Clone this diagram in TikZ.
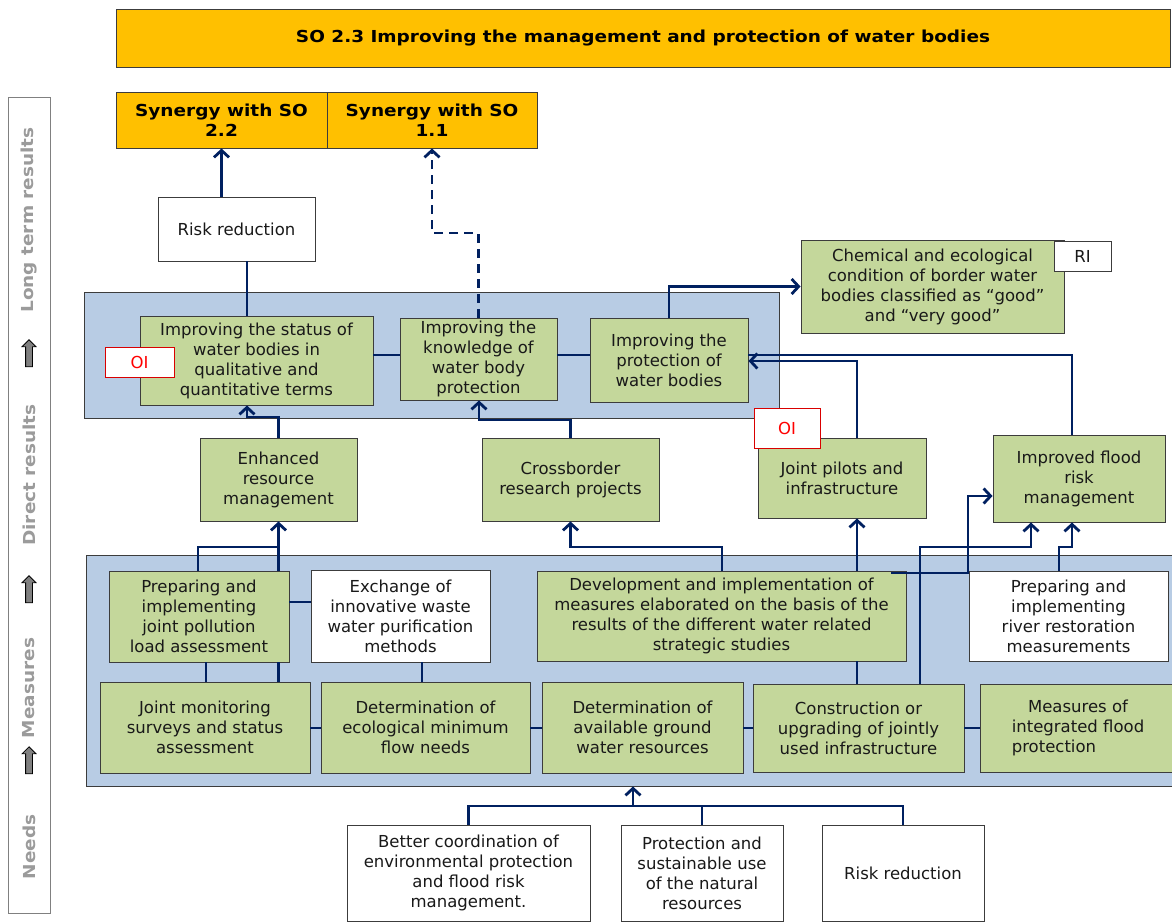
\documentclass[tikz,border=0pt]{standalone}
\usepackage{fontspec}
\setmainfont{DejaVu Sans}
\newfontfamily\bw[FakeStretch=1.12]{DejaVu Sans}
\usetikzlibrary{arrows.meta,shapes.arrows}
\definecolor{grn}{RGB}{196,215,155}
\definecolor{blu}{RGB}{184,204,228}
\definecolor{gld}{RGB}{255,192,0}
\definecolor{nvy}{RGB}{0,32,96}
\definecolor{edg}{RGB}{60,60,60}
\definecolor{sidegray}{RGB}{155,155,155}
\newcommand\nf{\fontsize{16.5}{20}\selectfont}
\newcommand\bx[7]{\node[#6, minimum width={#4-#2}, minimum height={#5-#3}] (#1) at ({(#2+#4)/2},{(#3+#5)/2}) {#7};}
\tikzset{
  base/.style={draw=edg, line width=0.9pt, inner sep=0pt, align=center, text=black!90, font=\nf},
  gbox/.style={base, fill=grn},
  wbox/.style={base, fill=white},
  gold/.style={base, fill=gld, font=\nf\bw\bfseries, text=black},
  bluebox/.style={base, fill=blu},
  oibox/.style={base, draw=red!85!black, fill=white, text=red},
  sidebox/.style={draw=gray, line width=1pt, inner sep=0pt},
  sidetxt/.style={rotate=90, font=\nf\bw\bfseries, text=sidegray},
  uparrow/.style={single arrow, draw=black, fill=gray, rotate=90, minimum height=27pt, inner sep=3pt, single arrow head extend=3.5pt, line width=0.8pt},
  con/.style={draw=nvy, line width=2.8pt},
  arr/.style={con, -{Straight Barb[length=7pt,width=15pt]}},
  dsh/.style={arr, dash pattern=on 9pt off 6pt}
}
\begin{document}
\begin{tikzpicture}[x=1pt,y=-1pt]
\useasboundingbox (0,0) rectangle (1172,922);
\fill[white] (0,0) rectangle (1172,922);

% sidebar
\bx{side}{8}{97}{50}{913}{sidebox}{}
\node[sidetxt] (t1) at (29,220) {Long term results};
\node[sidetxt] (t2) at (29,475) {Direct results};
\node[sidetxt] (t3) at (29,688) {Measures};
\node[sidetxt] (t4) at (29,847) {Needs};
\node[uparrow] (a1) at (29,355) {};
\node[uparrow] (a2) at (29,591) {};
\node[uparrow] (a3) at (29,762) {};

% top
\bx{title}{116}{9}{1170}{67}{gold}{SO 2.3 Improving the management and protection of water bodies}
\bx{synA}{116}{92}{327}{148}{gold}{Synergy with SO\\2.2}
\bx{synB}{327}{92}{537}{148}{gold}{Synergy with SO\\1.1}
\bx{rr}{158}{197}{315}{261}{wbox}{Risk reduction}

% long-term block
\bx{blueA}{84}{292}{779}{418}{bluebox}{}
\bx{status}{140}{316}{373}{405}{gbox}{Improving the status of\\water bodies in\\qualitative and\\quantitative terms}
\bx{know}{400}{318}{557}{400}{gbox}{Improving the\\knowledge of\\water body\\protection}
\bx{prot}{590}{318}{748}{402}{gbox}{Improving the\\protection of\\water bodies}
\bx{oiA}{105}{347}{174}{377}{oibox}{OI}
\bx{chem}{801}{240}{1064}{333}{gbox}{Chemical and ecological\\condition of border water\\bodies classified as “good”\\and “very good”}
\bx{ri}{1054}{241}{1111}{271}{wbox}{RI}

% direct results
\bx{enh}{200}{438}{357}{521}{gbox}{Enhanced\\resource\\management}
\bx{cross}{482}{438}{659}{521}{gbox}{Crossborder\\research projects}
\bx{pilots}{758}{438}{926}{518}{gbox}{Joint pilots and\\infrastructure}
\bx{oiB}{754}{408}{820}{448}{oibox}{OI}
\bx{flood}{993}{435}{1165}{522}{gbox}{Improved flood\\risk\\management}

% measures
\bx{blueB}{86}{555}{1185}{786}{bluebox}{}
\bx{poll}{109}{571}{289}{662}{gbox}{Preparing and\\implementing\\joint pollution\\load assessment}
\bx{exch}{311}{570}{490}{662}{wbox}{Exchange of\\innovative waste\\water purification\\methods}
\bx{dev}{537}{571}{906}{661}{gbox}{Development and implementation of\\measures elaborated on the basis of the\\results of the different water related\\strategic studies}
\bx{river}{969}{571}{1168}{661}{wbox}{Preparing and\\implementing\\river restoration\\measurements}
\bx{mon}{100}{682}{310}{773}{gbox}{Joint monitoring\\surveys and status\\assessment}
\bx{eco}{321}{682}{530}{773}{gbox}{Determination of\\ecological minimum\\flow needs}
\bx{gw}{542}{682}{743}{773}{gbox}{Determination of\\available ground\\water resources}
\bx{cons}{753}{684}{964}{772}{gbox}{Construction or\\upgrading of jointly\\used infrastructure}
\bx{ifp}{980}{684}{1176}{772}{gbox}{Measures of\\integrated flood\\\rlap{protection}\phantom{integrated flood}}

% needs
\bx{better}{347}{825}{590}{921}{wbox}{Better coordination of\\environmental protection\\and flood risk\\management.}
\bx{psu}{621}{825}{783}{921}{wbox}{Protection and\\sustainable use\\of the natural\\resources}
\bx{rrb}{822}{825}{984}{921}{wbox}{Risk reduction}

% connectors: top
\coordinate (k0) at (247,0);
\draw[con] (k0 |- status.north) -- (k0 |- rr.south);
\draw[arr] (rr.north -| synA.south) -- (synA.south);
\coordinate (kd) at (432,233);
\draw[dsh] (know.north) |- (kd) -- (kd |- synB.south);
\draw[arr] (prot.north) |- (chem.west);
\coordinate (k5) at (0,355);
\draw[con] (status.east |- k5) -- (know.west |- k5);
\draw[con] (know.east |- k5) -- (prot.west |- k5);

% direct results to long-term
\coordinate (k1) at (247,417);
\draw[arr] (enh.north) |- (k1) -- (k1 |- status.south);
\coordinate (k2) at (479,420);
\draw[arr] (cross.north) |- (k2) -- (k2 |- know.south);
\coordinate (k4) at (1072,355);
\draw[con] (k4 |- flood.north) -- (k4) -- (k4 -| prot.east);
\coordinate (k3) at (857,361);
\draw[arr] (k3 |- pilots.north) -- (k3) -- (k3 -| prot.east);

% measures internal and to direct results
\coordinate (c206) at (206,0);
\draw[con] (c206 |- poll.south) -- (c206 |- mon.north);
\draw[con] (enh.south |- poll.south) -- (enh.south |- mon.north);
\draw[arr] (enh.south |- poll.north) -- (enh.south);
\coordinate (k6) at (198,547);
\draw[con] (k6 |- poll.north) -- (k6) -- (k6 -| enh.south);
\coordinate (k7) at (0,602);
\draw[con] (poll.east |- k7) -- (exch.west |- k7);
\coordinate (k8) at (422,0);
\draw[con] (k8 |- exch.south) -- (k8 |- eco.north);
\coordinate (k9) at (722,547);
\draw[arr] (k9 |- dev.north) -- (k9) -| (cross.south);
\draw[arr] (k3 |- dev.north) -- (k3 |- pilots.south);
\draw[con] (k3 |- cons.north) -- (k3 |- dev.south);
\coordinate (k10) at (920,547);
\coordinate (k11) at (1031,547);
\draw[arr] (k10 |- cons.north) -- (k10) -- (k11) -- (k11 |- flood.south);
\coordinate (k12) at (891,573);
\coordinate (k13) at (968,496);
\draw[arr] (k12) -| (k13) -- (k13 -| flood.west);
\coordinate (k14) at (1059,547);
\coordinate (k15) at (1072,547);
\draw[arr] (k14 |- river.north) -- (k14) -- (k15) -- (k15 |- flood.south);
\coordinate (k16) at (0,728);
\draw[con] (mon.east |- k16) -- (eco.west |- k16);
\draw[con] (eco.east |- k16) -- (gw.west |- k16);
\draw[con] (gw.east |- k16) -- (cons.west |- k16);
\draw[con] (cons.east |- k16) -- (ifp.west |- k16);

% needs
\coordinate (k17) at (702,806);
\draw[con] (better.north) |- (k17) -| (rrb.north);
\draw[con] (psu.north) -- (k17);
\coordinate (k18) at (633,806);
\draw[arr] (k18) -- (k18 |- blueB.south);
\end{tikzpicture}
\end{document}
